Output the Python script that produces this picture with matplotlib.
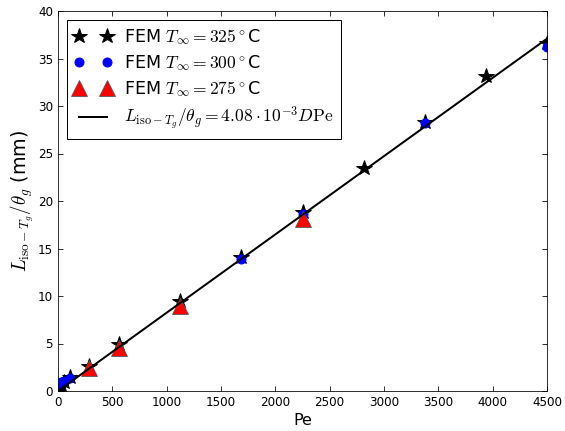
import matplotlib
matplotlib.use("Agg")
import matplotlib.pyplot as plt
import numpy as np

plt.rcParams['mathtext.fontset'] = 'cm'
plt.rcParams['font.family'] = ['DejaVu Sans']

# Data
pe_325 = [14, 28, 56, 112, 281, 562, 1125, 1687, 2250, 2812, 3375, 3937, 4500]
L_325 = [0.4, 0.6, 1.0, 1.5, 2.6, 4.9, 9.5, 14.1, 18.8, 23.5, 28.3, 33.2, 36.6]

pe_300 = [14, 28, 56, 112, 1687, 2250, 3375, 4500]
L_300 = [0.7, 0.9, 1.1, 1.4, 13.9, 18.6, 28.2, 36.2]

pe_275 = [281, 562, 1125, 2250]
L_275 = [2.4, 4.5, 9.0, 18.1]

D = 2.02
coef = 4.08e-3
pe_fit = np.array([0, 4500])

xticks = [0, 500, 1000, 1500, 2000, 2500, 3000, 3500, 4000, 4500]
yticks = [0, 5, 10, 15, 20, 25, 30, 35, 40]

fig = plt.figure(figsize=(565/72, 431/72), dpi=72)
ax = fig.add_axes([58/565, 40/431, (547-58)/565, (391-11)/431])

ax.plot(pe_325, L_325, linestyle='none', marker='*', color='black', markersize=16,
        markeredgecolor='black', label=r'FEM $T_\infty=325^\circ$C')
ax.plot(pe_300, L_300, linestyle='none', marker='o', color='blue', markersize=9,
        markeredgecolor='blue', label=r'FEM $T_\infty=300^\circ$C')
ax.plot(pe_275, L_275, linestyle='none', marker='^', color='red', markersize=16,
        markeredgecolor='#555555', markeredgewidth=0.8, label=r'FEM $T_\infty=275^\circ$C')
ax.plot(pe_fit, coef * D * pe_fit, color='black', linewidth=2,
        label=r'$L_{\mathrm{iso}-T_g}/\theta_g=4.08\cdot10^{-3}D\mathrm{Pe}$')

ax.set_xlim(0, 4500)
ax.set_ylim(0, 40)
ax.set_xticks(xticks)
ax.set_yticks(yticks)
ax.tick_params(direction='in', top=True, right=True, labelsize=12, length=5, pad=5)
ax.set_xlabel('Pe', fontsize=16)
ax.set_ylabel(r'$L_{\mathrm{iso}-T_g}/\theta_g$ (mm)', fontsize=19, labelpad=2)

leg = ax.legend(loc='upper left', numpoints=2, fontsize=17.5, fancybox=False,
                framealpha=1, edgecolor='black', borderaxespad=0.5,
                handlelength=2.2, handletextpad=0.7, labelspacing=0.35,
                borderpad=0.4)
leg.get_frame().set_linewidth(1.0)

fig.savefig('out.png', dpi=72)
